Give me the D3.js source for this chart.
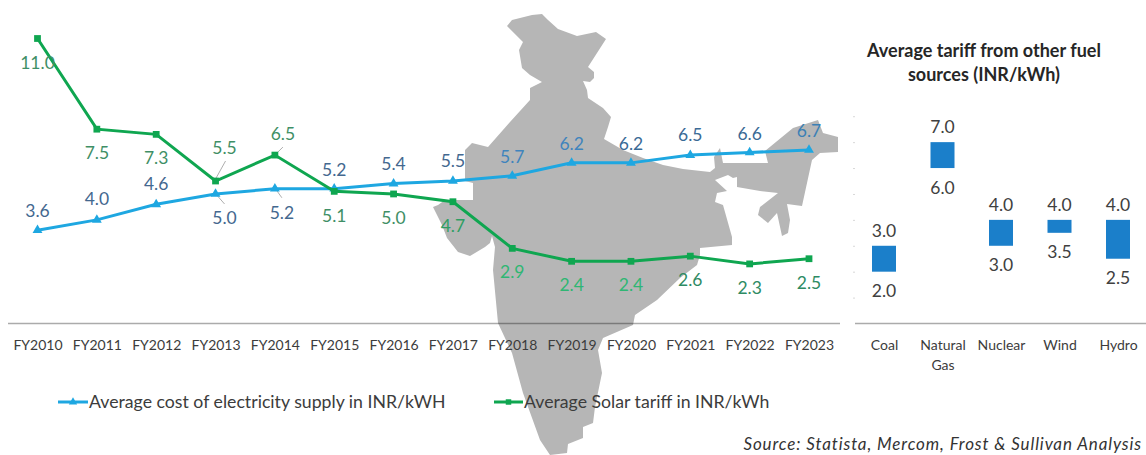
<!DOCTYPE html>
<html>
<head>
<meta charset="utf-8">
<script src="https://cdn.jsdelivr.net/npm/d3@7"></script>
<style>
  html, body { margin: 0; padding: 0; background: #fff; }
  svg { display: block; }
  text { font-family: Lato, "Open Sans", sans-serif; }
</style>
</head>
<body>
<div id="chart"></div>
<script>
var years = ["FY2010", "FY2011", "FY2012", "FY2013", "FY2014", "FY2015", "FY2016",
             "FY2017", "FY2018", "FY2019", "FY2020", "FY2021", "FY2022", "FY2023"];
var supplyCost = [3.6, 4.0, 4.6, 5.0, 5.2, 5.2, 5.4, 5.5, 5.7, 6.2, 6.2, 6.5, 6.6, 6.7];
var solarTariff = [11.0, 7.5, 7.3, 5.5, 6.5, 5.1, 5.0, 4.7, 2.9, 2.4, 2.4, 2.6, 2.3, 2.5];

var fuels = ["Coal", "Natural Gas", "Nuclear", "Wind", "Hydro"];
var fuelLow = [2.0, 6.0, 3.0, 3.5, 2.5];
var fuelHigh = [3.0, 7.0, 4.0, 4.0, 4.0];
var fuelTicks = [1, 2, 3, 4, 5, 6, 7, 8];

/* label offsets from the point, px */
var supplyLabelDx = [0, 0, 0, 9, 7, 0, 0, 0, 0, 0, 0, 0, 0, 0];
var supplyLabelDy = [-19, -21, -20, 24, 24, -19, -20, -20, -19, -19, -19, -20, -19, -19];
var solarLabelDx = [0, 0, 0, 9, 8, 0, 0, 0, 0, 0, 0, 0, 0, 0];
var solarLabelDy = [24, 24, 24, -33, -21, 25, 24, 24, 24, 24, 24, 24, 24, 24];

/* label colours shift where the text sits on the map */
var supplyLabelColors = ["#44688f", "#44688f", "#44688f", "#44688f", "#44688f", "#44688f", "#44688f",
                         "#44688f", "#3f84bd", "#3f84bd", "#3a6a96", "#3a6a96", "#3a6a96", "#3b80b5"];
var solarLabelColors = ["#3f8f66", "#3f8f66", "#3f8f66", "#3f8f66", "#3f8f66", "#3f8f66", "#3f8f66",
                        "#2e9e63", "#2fb673", "#2fb673", "#2fb673", "#2e8b63", "#2e8b63", "#2e8b63"];

/* backdrop outline of India, page pixels */
var indiaOutline = [[507,26],[512,20],[532,15],[542,14],[548,20],[558,29],[577,36],[596,32],[606,39],[597,53],
  [588,67],[594,72],[594,78],[590,82],[583,81],[587,90],[588,98],[603,108],[611,117],[608,127],[604,139],
  [623,150],[643,158],[663,165],[683,169],[710,172],[715,168],[714,157],[720,148],[723,163],[768,163],[765,151],
  [793,128],[818,120],[823,133],[838,137],[838,152],[820,153],[812,160],[802,206],[787,204],[790,220],[788,233],
  [782,236],[777,213],[768,223],[758,215],[760,207],[778,193],[760,191],[737,187],[737,177],[733,178],[728,175],
  [715,180],[727,191],[717,193],[715,202],[723,205],[732,237],[732,245],[700,248],[700,255],[697,265],[680,278],
  [657,300],[635,315],[633,325],[603,338],[598,350],[602,373],[595,407],[593,423],[583,427],[583,438],[568,444],
  [567,453],[550,455],[540,440],[523,393],[512,353],[498,323],[493,270],[495,247],[492,236],[490,243],[485,247],
  [470,256],[458,252],[447,238],[442,225],[433,207],[438,205],[445,200],[473,200],[473,183],[465,181],[465,150],
  [472,143],[488,147],[510,122],[530,100],[530,88],[542,82],[530,75],[522,68],[519,50],[523,42]];

var width = 1146,
    height = 455;

var svg = d3.select("#chart")
    .append("svg")
    .attr("width", width)
    .attr("height", height);

/* shared value scale: both panels use the same units per px */
var y = d3.scaleLinear().domain([0, 11]).range([323.5, 38.5]);
var x = d3.scalePoint().domain(years).range([37.5, 809]);
var xFuel = d3.scalePoint().domain(fuels).range([884, 1118]);

/* map goes underneath everything */
svg.append("path")
    .attr("d", d3.line().curve(d3.curveLinearClosed)(indiaOutline))
    .attr("fill", "#b6b6b6");

function drawAxis(scale, x0, x1) {
    var g = svg.append("g")
        .attr("transform", "translate(0," + y(0) + ")")
        .call(d3.axisBottom(scale).tickSize(0).tickPadding(16.5));
    g.select(".domain")
        .attr("d", "M" + x0 + ",0H" + x1)
        .attr("stroke", "#000")
        .attr("stroke-opacity", 0.33)
        .attr("stroke-width", 1.6);
    g.selectAll("text")
        .attr("font-size", 14)
        .attr("fill", "#3c3c3c");
    return g;
}

drawAxis(x, 8, 840);
var fuelAxis = drawAxis(xFuel, 855, 1146);

/* wrap "Natural Gas" onto two lines */
fuelAxis.selectAll("text").each(function(d) {
    var words = d.split(" ");
    if (words.length < 2) return;
    var t = d3.select(this).text(null);
    words.forEach(function(w, i) {
        t.append("tspan")
            .attr("x", 0)
            .attr("dy", i == 0 ? "0.71em" : "20px")
            .text(w);
    });
    t.attr("dy", null);
});

/* faint leftover ticks on the right panel */
svg.append("g")
    .attr("transform", "translate(855,0)")
    .call(d3.axisLeft(y).tickValues(fuelTicks).tickSize(2).tickFormat(""))
    .call(function(g) { g.select(".domain").remove(); })
    .selectAll("line")
    .attr("stroke", "#d8d8d8");

var line = d3.line()
    .x(function(d, i) { return x(years[i]); })
    .y(function(d) { return y(d); });

function drawSeries(values, color, symbolType, symbolSize) {
    svg.append("path")
        .datum(values)
        .attr("d", line)
        .attr("fill", "none")
        .attr("stroke", color)
        .attr("stroke-width", 3);
    svg.append("g")
        .selectAll("path")
        .data(values)
        .enter().append("path")
        .attr("d", d3.symbol().type(symbolType).size(symbolSize))
        .attr("fill", color)
        .attr("transform", function(d, i) { return "translate(" + x(years[i]) + "," + y(d) + ")"; });
}

function drawLabels(values, dx, dy, colors) {
    svg.append("g")
        .selectAll("text")
        .data(values)
        .enter().append("text")
        .attr("x", function(d, i) { return x(years[i]) + dx[i]; })
        .attr("y", function(d, i) { return y(d) + dy[i]; })
        .attr("dy", "0.35em")
        .attr("text-anchor", "middle")
        .attr("font-size", 17.5)
        .attr("fill", function(d, i) { return colors[i]; })
        .text(function(d) { return d.toFixed(1); });
}

/* grey leader lines for the labels moved off their points */
function leader(values, idx, dx, dy, x2off, y2off) {
    svg.append("line")
        .attr("x1", x(years[idx]) + x2off)
        .attr("y1", y(values[idx]) + y2off)
        .attr("x2", x(years[idx]) + dx)
        .attr("y2", y(values[idx]) + dy)
        .attr("stroke", "#999")
        .attr("stroke-width", 0.8);
}
leader(solarTariff, 3, 10, -20, 0, -2);
leader(solarTariff, 4, 8, -8, 2, -2);
leader(supplyCost, 3, 9, 10, 2, 2);
leader(supplyCost, 4, 7, 9, 2, 2);

drawSeries(supplyCost, "#1ea7e1", d3.symbolTriangle, 42);
drawSeries(solarTariff, "#0fa650", d3.symbolSquare, 46);
drawLabels(supplyCost, supplyLabelDx, supplyLabelDy, supplyLabelColors);
drawLabels(solarTariff, solarLabelDx, solarLabelDy, solarLabelColors);

/* floating bars */
var barWidth = 24;
svg.append("g")
    .selectAll("rect")
    .data(fuels)
    .enter().append("rect")
    .attr("x", function(d) { return xFuel(d) - barWidth / 2; })
    .attr("y", function(d, i) { return y(fuelHigh[i]); })
    .attr("width", barWidth)
    .attr("height", function(d, i) { return y(fuelLow[i]) - y(fuelHigh[i]); })
    .attr("fill", "#1b7fca");

function fuelLabels(values, offset) {
    svg.append("g")
        .selectAll("text")
        .data(values)
        .enter().append("text")
        .attr("x", function(d, i) { return xFuel(fuels[i]); })
        .attr("y", function(d) { return y(d) + offset; })
        .attr("dy", "0.35em")
        .attr("text-anchor", "middle")
        .attr("font-size", 17.5)
        .attr("fill", "#404040")
        .text(function(d) { return d.toFixed(1); });
}
fuelLabels(fuelHigh, -15);
fuelLabels(fuelLow, 19.5);

svg.append("text")
    .attr("text-anchor", "middle")
    .attr("font-size", 18)
    .attr("font-weight", 700)
    .attr("fill", "#262626")
    .selectAll("tspan")
    .data(["Average tariff from other fuel", "sources (INR/kWh)"])
    .enter().append("tspan")
    .attr("x", 984)
    .attr("y", function(d, i) { return 57 + i * 24; })
    .text(function(d) { return d; });

/* legend */
function legendEntry(x0, x1, label, color, symbolType, symbolSize) {
    var g = svg.append("g");
    g.append("line")
        .attr("x1", x0).attr("x2", x1)
        .attr("y1", 402).attr("y2", 402)
        .attr("stroke", color)
        .attr("stroke-width", 3);
    g.append("path")
        .attr("d", d3.symbol().type(symbolType).size(symbolSize))
        .attr("fill", color)
        .attr("transform", "translate(" + ((x0 + x1) / 2) + ",402)");
    g.append("text")
        .attr("x", x1 + 1)
        .attr("y", 402)
        .attr("dy", "0.35em")
        .attr("font-size", 17.7)
        .attr("fill", "#3c3c3c")
        .text(label);
}
legendEntry(58, 88, "Average cost of electricity supply in INR/kWH", "#1ea7e1", d3.symbolTriangle, 30);
legendEntry(494, 523, "Average Solar tariff in INR/kWh", "#0fa650", d3.symbolSquare, 30);

svg.append("text")
    .attr("x", 1142)
    .attr("y", 450)
    .attr("text-anchor", "end")
    .attr("font-size", 17)
    .attr("font-style", "italic")
    .attr("letter-spacing", 0.88)
    .attr("fill", "#333")
    .text("Source: Statista, Mercom, Frost & Sullivan Analysis");
</script>
</body>
</html>
